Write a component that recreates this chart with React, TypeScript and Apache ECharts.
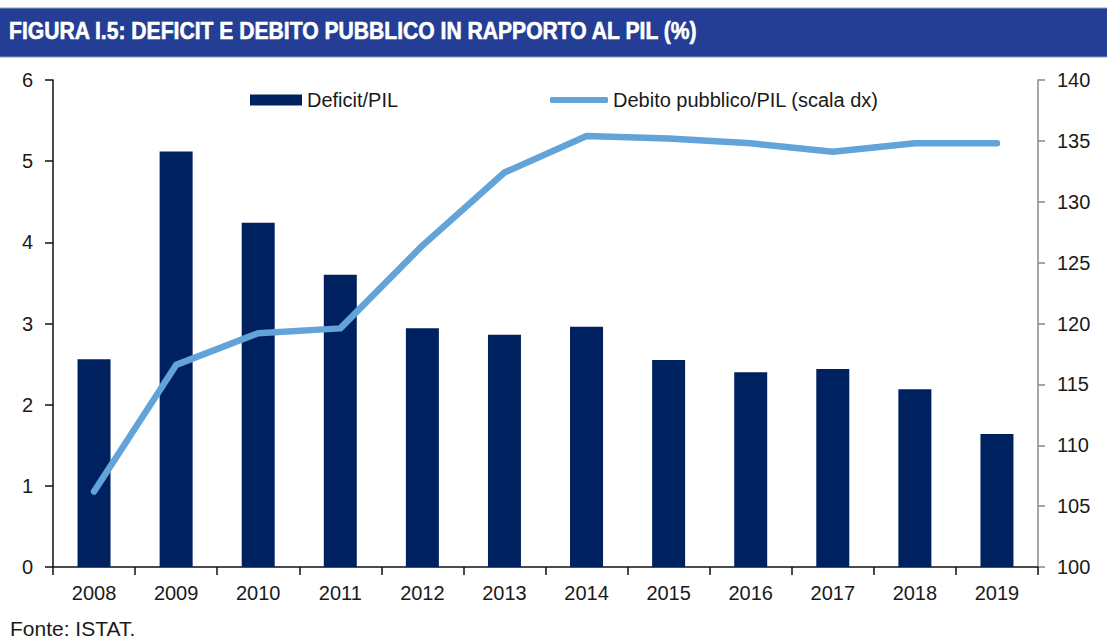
import React, { useEffect, useRef } from "react";
import * as echarts from "echarts";

const years = ["2008", "2009", "2010", "2011", "2012", "2013", "2014", "2015", "2016", "2017", "2018", "2019"];
const deficit = [2.56, 5.12, 4.24, 3.6, 2.94, 2.86, 2.96, 2.55, 2.4, 2.44, 2.19, 1.64];
const debito = [106.2, 116.6, 119.2, 119.6, 126.4, 132.4, 135.4, 135.2, 134.8, 134.1, 134.8, 134.8];
const leftTicks = { min: 0, max: 6, interval: 1 };
const rightTicks = { min: 100, max: 140, interval: 5 };

const FONT = "'Liberation Sans', Arial, sans-serif";
const TXT = "#1a1a1a";

export default function App() {
  const ref = useRef<HTMLDivElement>(null);
  useEffect(() => {
    const chart = echarts.init(ref.current!, null, { renderer: "svg" });
    chart.setOption({
      animation: false,
      textStyle: { fontFamily: FONT },
      graphic: [
        { type: "rect", shape: { x: 0, y: 8, width: 1107, height: 49 }, style: { fill: "#233E94" } },
        { type: "line", shape: { x1: 0, y1: 8, x2: 1107, y2: 8 }, style: { stroke: "#8A9BD0", lineWidth: 1 } },
        { type: "line", shape: { x1: 0, y1: 57, x2: 1107, y2: 57 }, style: { stroke: "#8A9BD0", lineWidth: 1 } },
        {
          type: "text",
          x: 9,
          y: 31,
          scaleX: 0.88,
          style: {
            text: "FIGURA I.5: DEFICIT E DEBITO PUBBLICO IN RAPPORTO AL PIL (%)",
            fill: "#ffffff",
            stroke: "#ffffff",
            lineWidth: 0.6,
            font: "bold 24px 'Liberation Sans', Arial, sans-serif",
            textVerticalAlign: "middle",
          },
        },
        {
          type: "text",
          x: 10,
          y: 628,
          style: { text: "Fonte: ISTAT.", fill: TXT, font: "21px " + FONT, textVerticalAlign: "middle" },
        },
      ],
      legend: [
        {
          left: 250,
          top: 90,
          itemWidth: 52,
          itemHeight: 11,
          data: [{ name: "Deficit/PIL", icon: "rect" }],
          textStyle: { fontSize: 20, color: TXT, fontFamily: FONT },
          padding: 0,
        },
        {
          left: 550,
          top: 90,
          itemWidth: 58,
          itemHeight: 6,
          data: [{ name: "Debito pubblico/PIL (scala dx)", icon: "roundRect", itemStyle: { color: "#62A3DA" } }],
          textStyle: { fontSize: 20, color: TXT, fontFamily: FONT },
          padding: 0,
        },
      ],
      grid: { left: 53, right: 69, top: 80, bottom: 71 },
      xAxis: {
        type: "category",
        data: years,
        axisLine: { lineStyle: { color: "#111", width: 1.5 } },
        axisTick: { show: true, length: 8, lineStyle: { color: "#111", width: 1.5 } },
        axisLabel: { fontSize: 20, color: TXT, margin: 16, fontFamily: FONT },
      },
      yAxis: [
        {
          type: "value",
          min: leftTicks.min,
          max: leftTicks.max,
          interval: leftTicks.interval,
          position: "left",
          axisLine: { show: true, lineStyle: { color: "#111", width: 1.5 } },
          axisTick: { show: true, length: 8, lineStyle: { color: "#111", width: 1.5 } },
          axisLabel: { fontSize: 20, color: TXT, margin: 20, fontFamily: FONT },
          splitLine: { show: false },
        },
        {
          type: "value",
          min: rightTicks.min,
          max: rightTicks.max,
          interval: rightTicks.interval,
          position: "right",
          axisLine: { show: true, lineStyle: { color: "#888", width: 1.5 } },
          axisTick: { show: true, length: 7, lineStyle: { color: "#888", width: 1.5 } },
          axisLabel: { fontSize: 20, color: TXT, margin: 19, fontFamily: FONT },
          splitLine: { show: false },
        },
      ],
      series: [
        {
          name: "Deficit/PIL",
          type: "bar",
          data: deficit,
          barWidth: 33,
          itemStyle: { color: "#00215F" },
          yAxisIndex: 0,
        },
        {
          name: "Debito pubblico/PIL (scala dx)",
          type: "line",
          data: debito,
          yAxisIndex: 1,
          showSymbol: false,
          symbol: "none",
          lineStyle: { color: "#62A3DA", width: 6.5, cap: "round", join: "round" },
          itemStyle: { color: "#62A3DA" },
        },
      ],
    });
    return () => chart.dispose();
  }, []);
  return <div ref={ref} style={{ width: 1107, height: 638, position: "absolute", left: 0, top: 0 }} />;
}
